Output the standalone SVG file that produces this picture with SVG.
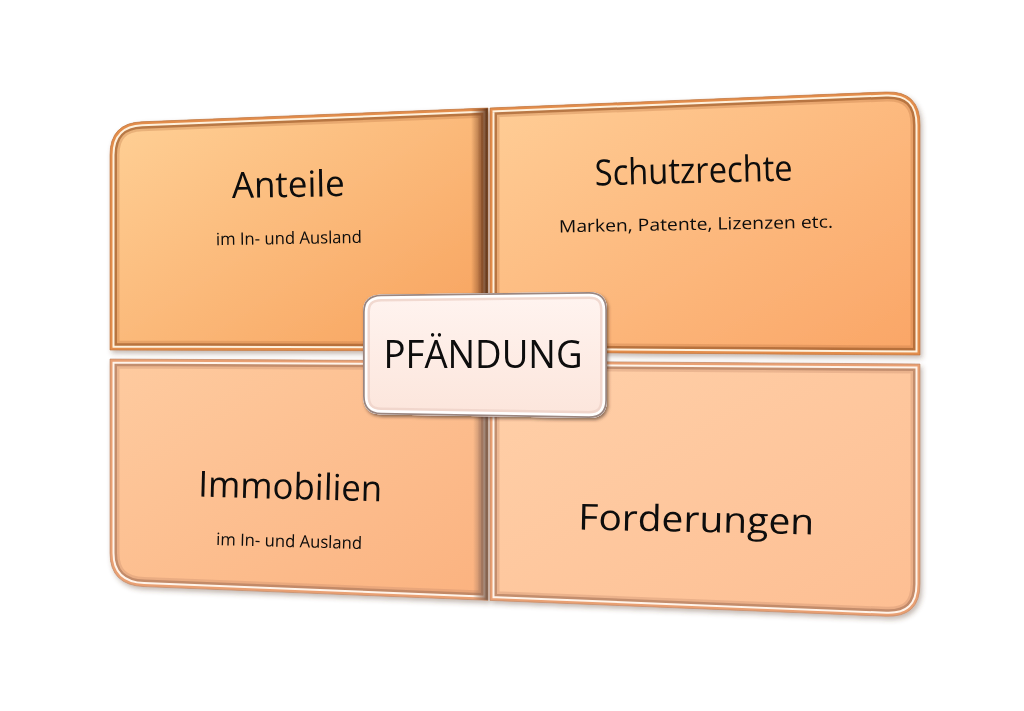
<svg xmlns="http://www.w3.org/2000/svg" width="1024" height="711" viewBox="0 0 1024 711">
<defs>
<style>
.t{font-family:"Open Sans","Noto Sans","Liberation Sans",sans-serif;fill:#0A0A0A;text-anchor:middle}
.big{font-size:36px}
.small{font-size:17px}
.band2{fill:none;stroke:#B8703E;stroke-width:19;opacity:.3}
.band{fill:none;stroke:#9E5A2A;stroke-width:14;opacity:.65}
.hi{fill:none;stroke:#FFF1DC;stroke-width:9}
.rim{fill:none;stroke:#E38D4C;stroke-width:5}
.band2B{fill:none;stroke:#C08466;stroke-width:19;opacity:.3}
.bandB{fill:none;stroke:#A87558;stroke-width:14;opacity:.6}
.hiB{fill:none;stroke:#FFF4EA;stroke-width:9}
.rimB{fill:none;stroke:#E9A073;stroke-width:5}
.edge{fill:none;stroke:#B9703C;stroke-width:1;opacity:.6}
.edgeB{fill:none;stroke:#B98262;stroke-width:1;opacity:.6}
</style>
<path id="pTL" d="M110,350 L110,155 Q110,123 142,121.8 L488,108 L488,351 Z"/>
<path id="pTR" d="M490,108 L886,92 Q920,90.7 920,125 L920,355 L490,352 Z"/>
<path id="pBL" d="M110,359 L488,361 L488,600.3 L144,586.6 Q110,585.2 110,553 Z"/>
<path id="pBR" d="M490,361 L920,364 L920,584 Q920,617.6 886,616.2 L490,600.4 Z"/>
<path id="pC" d="M381,294.5 L589,292 Q607,292 607,310 L607,400 Q607,418 589,418 L381,414.5 Q363,414 363,396 L363,312 Q363,295 381,294.5 Z"/>
<clipPath id="cTL"><use href="#pTL"/></clipPath>
<clipPath id="cTR"><use href="#pTR"/></clipPath>
<clipPath id="cBL"><use href="#pBL"/></clipPath>
<clipPath id="cBR"><use href="#pBR"/></clipPath>
<clipPath id="cC"><use href="#pC"/></clipPath>
<linearGradient id="gTL" x1="0" y1="0" x2="1" y2="1"><stop offset="0" stop-color="#FFD197"/><stop offset="1" stop-color="#F7A15C"/></linearGradient>
<linearGradient id="gTR" x1="0" y1="0" x2="1" y2="1"><stop offset="0" stop-color="#FFCE97"/><stop offset="1" stop-color="#FAA566"/></linearGradient>
<linearGradient id="gBL" x1="0" y1="0" x2="1" y2="1"><stop offset="0" stop-color="#FECBA0"/><stop offset="1" stop-color="#FBB27F"/></linearGradient>
<linearGradient id="gBR" x1="0" y1="0" x2="1" y2="1"><stop offset="0" stop-color="#FFD0A9"/><stop offset="1" stop-color="#FDBE92"/></linearGradient>
<linearGradient id="gC" x1="0" y1="0" x2="0" y2="1"><stop offset="0" stop-color="#FFF4F0"/><stop offset="1" stop-color="#FCE5DB"/></linearGradient>
<linearGradient id="shR" x1="0" y1="0" x2="1" y2="0"><stop offset="0" stop-color="#7A4526" stop-opacity="0"/><stop offset=".7" stop-color="#7A4526" stop-opacity=".75"/><stop offset="1" stop-color="#553018"/></linearGradient>
<linearGradient id="shRB" x1="0" y1="0" x2="1" y2="0"><stop offset="0" stop-color="#8C6A58" stop-opacity="0"/><stop offset=".7" stop-color="#8C6A58" stop-opacity=".7"/><stop offset="1" stop-color="#6F5546"/></linearGradient>
<filter id="shadow" x="-5%" y="-5%" width="112%" height="115%"><feDropShadow dx="2" dy="3" stdDeviation="2.5" flood-color="#5A3A28" flood-opacity=".35"/></filter>
<filter id="shadowC" x="-10%" y="-10%" width="125%" height="130%"><feDropShadow dx="1.5" dy="2" stdDeviation="1.5" flood-color="#3A2A24" flood-opacity=".55"/></filter>
</defs>
<rect width="1024" height="711" fill="#FFFFFF"/>
<g id="board" filter="url(#shadow)">
<g id="anteile">
<use href="#pTL" fill="url(#gTL)"/>
<g clip-path="url(#cTL)">
<use href="#pTL" class="band2"/><use href="#pTL" class="band"/><use href="#pTL" class="hi"/><use href="#pTL" class="rim"/>
<rect x="471" y="100" width="17" height="260" fill="url(#shR)"/>
</g>
<use href="#pTL" class="edge"/>
<text class="t big" x="288.5" y="197" textLength="113" lengthAdjust="spacingAndGlyphs" transform="rotate(-1 288.5 197)">Anteile</text>
<text class="t small" x="289" y="244" textLength="146" lengthAdjust="spacingAndGlyphs" transform="rotate(-0.9 289 244)">im In- und Ausland</text>
</g>
<g id="schutzrechte">
<use href="#pTR" fill="url(#gTR)"/>
<g clip-path="url(#cTR)">
<use href="#pTR" class="band2"/><use href="#pTR" class="band"/><use href="#pTR" class="hi"/><use href="#pTR" class="rim"/>
</g>
<use href="#pTR" class="edge"/>
<text class="t big" x="694" y="183" textLength="198" lengthAdjust="spacingAndGlyphs" transform="rotate(-1.4 694 183)">Schutzrechte</text>
<text class="t small" x="696" y="230" font-size="18" textLength="274" lengthAdjust="spacingAndGlyphs" transform="rotate(-1 696 230)">Marken, Patente, Lizenzen etc.</text>
</g>
<g id="immobilien">
<use href="#pBL" fill="url(#gBL)"/>
<g clip-path="url(#cBL)">
<use href="#pBL" class="band2B"/><use href="#pBL" class="bandB"/><use href="#pBL" class="hiB"/><use href="#pBL" class="rimB"/>
<rect x="473" y="355" width="15" height="250" fill="url(#shRB)"/>
</g>
<use href="#pBL" class="edgeB"/>
<text class="t big" x="290" y="499" textLength="184" lengthAdjust="spacingAndGlyphs" transform="rotate(1.5 290 499)">Immobilien</text>
<text class="t small" x="289" y="547" textLength="146" lengthAdjust="spacingAndGlyphs" transform="rotate(1.5 289 547)">im In- und Ausland</text>
</g>
<g id="forderungen">
<use href="#pBR" fill="url(#gBR)"/>
<g clip-path="url(#cBR)">
<use href="#pBR" class="band2B"/><use href="#pBR" class="bandB"/><use href="#pBR" class="hiB"/><use href="#pBR" class="rimB"/>
</g>
<use href="#pBR" class="edgeB"/>
<text class="t big" x="696" y="532" font-size="39" textLength="236" lengthAdjust="spacingAndGlyphs" transform="rotate(1.2 696 532)">Forderungen</text>
</g>
</g>
<g id="connectors"></g>
<g id="pfaendung" filter="url(#shadowC)">
<use href="#pC" fill="url(#gC)"/>
<g clip-path="url(#cC)">
<use href="#pC" fill="none" stroke="#EDD2C8" stroke-width="14" opacity=".8"/>
<use href="#pC" fill="none" stroke="#FFFFFF" stroke-width="9"/>
<use href="#pC" fill="none" stroke="#9A8680" stroke-width="3.5"/>
</g>
<text class="t" x="483" y="368" font-size="38" textLength="199" lengthAdjust="spacingAndGlyphs">PFÄNDUNG</text>
</g>
</svg>
